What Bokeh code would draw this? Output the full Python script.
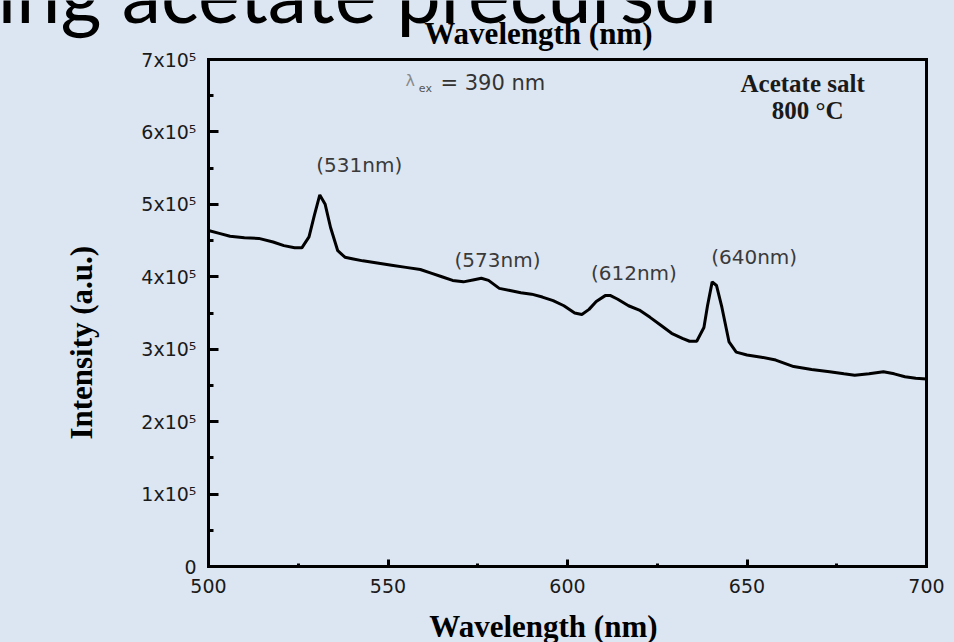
import math
from bokeh.plotting import figure
from bokeh.models import Range1d, Label, FixedTicker, ColumnDataSource, LinearAxis
from bokeh.core.properties import value
from bokeh.embed import file_html
from bokeh.resources import INLINE

# ---- data ----
wavelength = [500, 503, 506, 510, 514, 518, 521, 524, 526, 528, 529.5, 531, 532.5, 534, 536,
              538, 540, 543, 547, 551, 555, 559, 562, 565, 568, 571, 574, 576, 578, 581, 584,
              587, 590, 593, 596, 599, 602, 604, 606, 608, 610.5, 612, 614, 617, 620, 623, 626,
              629, 632, 634, 636, 638, 639, 640.3, 641.5, 643, 645, 647, 650, 654, 658, 663,
              668, 673, 677, 680, 684, 688, 691, 694, 697, 700]
intensity_e5 = [4.64, 4.60, 4.56, 4.54, 4.53, 4.48, 4.43, 4.40, 4.40, 4.55, 4.85, 5.13, 5.00,
                4.68, 4.36, 4.27, 4.25, 4.22, 4.19, 4.16, 4.13, 4.10, 4.05, 4.00, 3.95, 3.93,
                3.96, 3.98, 3.95, 3.84, 3.81, 3.78, 3.76, 3.72, 3.67, 3.60, 3.50, 3.48, 3.55,
                3.66, 3.74, 3.74, 3.69, 3.60, 3.54, 3.44, 3.33, 3.22, 3.15, 3.11, 3.11, 3.30,
                3.60, 3.93, 3.88, 3.58, 3.10, 2.96, 2.92, 2.89, 2.85, 2.76, 2.72, 2.69, 2.66,
                2.64, 2.66, 2.69, 2.66, 2.62, 2.60, 2.59]
intensity = [v * 1e5 for v in intensity_e5]

x_ticks = [500, 550, 600, 650, 700]
x_minor = [525, 575, 625, 675]
y_ticks = [0, 100000, 200000, 300000, 400000, 500000, 600000, 700000]
y_minor = [50000, 150000, 250000, 350000, 450000, 550000, 650000]
y_tick_labels = ["0", "1x10⁵", "2x10⁵", "3x10⁵", "4x10⁵", "5x10⁵", "6x10⁵", "7x10⁵"]
x_min, x_max = 500, 700
y_min, y_max = 0, 700000

peak_labels = ["(531nm)", "(573nm)", "(612nm)", "(640nm)"]
peak_label_x = [542.0, 580.5, 618.5, 652.0]
peak_label_y = [554000, 423000, 405000, 427000]

BG = "#DCE6F2"
SERIF = "Liberation Serif"
SANS = "DejaVu Sans"

# The plotting area covers the whole slide; the data box (500-700 nm, 0-7x10^5) sits at
# 208..926 px horizontally and 59..566 px vertically, drawn with bounded axes.
W, H = 954, 642
BOX_L, BOX_R, BOX_T, BOX_B = 208, 926, 59, 566
px_x = (BOX_R - BOX_L) / (x_max - x_min)
px_y = (BOX_B - BOX_T) / (y_max - y_min)
x_range = Range1d(x_min - BOX_L / px_x, x_max + (W - BOX_R) / px_x)
y_range = Range1d(y_min - (H - BOX_B) / px_y, y_max + BOX_T / px_y)

p = figure(width=W, height=H, output_backend="svg", toolbar_location=None,
           x_range=x_range, y_range=y_range,
           min_border_left=0, min_border_right=0, min_border_top=0, min_border_bottom=0)
p.title = None
p.background_fill_color = BG
p.border_fill_color = BG
p.outline_line_color = None
p.xgrid.visible = False
p.ygrid.visible = False

xax = p.xaxis[0]
yax = p.yaxis[0]
xax.fixed_location = y_min
yax.fixed_location = x_min
xax.bounds = (x_min, x_max)
yax.bounds = (y_min, y_max)
xax.ticker = FixedTicker(ticks=x_ticks, minor_ticks=x_minor)
yax.ticker = FixedTicker(ticks=y_ticks, minor_ticks=y_minor)
yax.major_label_overrides = {t: l for t, l in zip(y_ticks, y_tick_labels)}
for ax in (xax, yax):
    ax.axis_line_width = 3
    ax.axis_line_color = "black"
    ax.axis_line_cap = "square"
    ax.major_tick_out = 0
    ax.minor_tick_out = 0
    ax.major_tick_line_width = 3
    ax.minor_tick_line_width = 3
    ax.major_label_text_font = SANS
    ax.major_label_text_font_size = "19px"
    ax.major_label_text_color = "#1a1a1a"
xax.major_tick_in = 7
xax.minor_tick_in = 3
yax.major_tick_in = 10
yax.minor_tick_in = 5
xax.major_label_standoff = 12
yax.major_label_standoff = 12

# right and top sides of the box
right_axis = LinearAxis(ticker=FixedTicker(ticks=[]), bounds=(y_min, y_max), fixed_location=x_max,
                        axis_line_width=3, axis_line_color="black", axis_line_cap="square",
                        major_tick_in=0, major_tick_out=0, minor_tick_in=0, minor_tick_out=0,
                        major_label_text_color=None)
top_axis = LinearAxis(ticker=FixedTicker(ticks=[]), bounds=(x_min, x_max), fixed_location=y_max,
                      axis_line_width=3, axis_line_color="black", axis_line_cap="square",
                      major_tick_in=0, major_tick_out=0, minor_tick_in=0, minor_tick_out=0,
                      major_label_text_color=None)
p.add_layout(right_axis, "right")
p.add_layout(top_axis, "above")

# spectrum
src = ColumnDataSource(dict(x=wavelength, y=intensity))
p.line("x", "y", source=src, line_color="black", line_width=3)

# peak labels
p.text(x=peak_label_x, y=peak_label_y, text=peak_labels,
       text_font=value(SANS), text_font_size="20px", text_color="#3a3a3a",
       text_align="center", text_baseline="middle")

def lab(x, y, text, font=SANS, size="20px", style="normal", color="black",
        align="center", baseline="middle", angle=0.0):
    p.add_layout(Label(x=x, y=y, text=text, text_font=font, text_font_size=size,
                       text_font_style=style, text_color=color, text_align=align,
                       text_baseline=baseline, angle=angle))

# inner annotations
lab(554.9, 671000, "λ", size="16px", color="#8a8a8a", align="left")
lab(558.6, 660000, "ex", size="11px", color="#555555", align="left")
lab(564.6, 668000, "= 390 nm", size="21px", color="#333333", align="left")
lab(665.5, 667000, "Acetate salt", font=SERIF, size="25px", style="bold", color="#1a1a1a")
lab(666.9, 630000, "800 °C", font=SERIF, size="25px", style="bold", color="#1a1a1a")

# axis titles
lab(591.9, 736000, "Wavelength (nm)", font=SERIF, size="31px", style="bold")
lab(593.3, -83000, "Wavelength (nm)", font=SERIF, size="31px", style="bold")
lab(464.6, 309000, "Intensity (a.u.)", font=SERIF, size="31px", style="bold", angle=math.pi / 2)

# slide title, cut off by the top of the slide
lab(441.2, 793000, "ing acetate precursor", font="Lato", size="79px", align="left")

html = file_html(p, INLINE)
html = html.replace("</head>", "<style>body{background:%s;}</style></head>" % BG, 1)
open("out.html", "w").write(html)
